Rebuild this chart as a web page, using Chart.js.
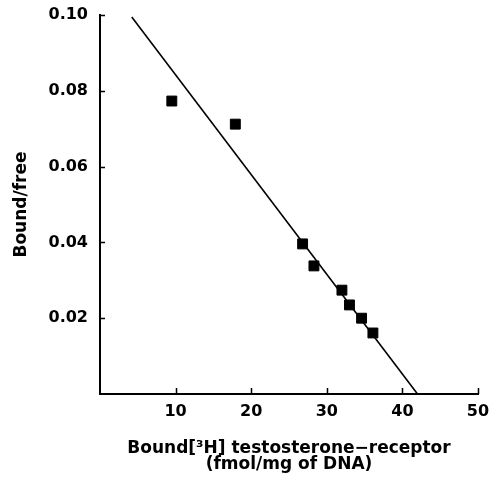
<!DOCTYPE html>
<html>
<head>
<meta charset="utf-8">
<script src="https://cdn.jsdelivr.net/npm/chart.js@4/dist/chart.umd.min.js"></script>
<style>
html,body{margin:0;padding:0;background:#fff;}
#wrap{width:498px;height:480px;}
</style>
</head>
<body>
<div id="wrap"><canvas id="c" width="498" height="480"></canvas></div>
<script>
const bound = [9.5, 17.9, 26.8, 28.3, 32.0, 33.0, 34.6, 36.1];
const boundFree = [0.0773, 0.0712, 0.0396, 0.0338, 0.0274, 0.0235, 0.0200, 0.0161];
const fitX = [4.2, 42.0];
const fitY = [0.0995, 0.0];
const xTicks = [10, 20, 30, 40, 50];
const yTicks = [0.02, 0.04, 0.06, 0.08, 0.10];
const xTitle = ['Bound[\u00B3H] testosterone\u2212receptor', '(fmol/mg of DNA)'];
const yTitle = 'Bound/free';

const FONT = 'DejaVu Sans';

const inwardTicks = {
  id: 'inwardTicks',
  afterDraw(chart) {
    const ctx = chart.ctx;
    const xs = chart.scales.x, ys = chart.scales.y;
    const left = chart.chartArea.left, bottom = chart.chartArea.bottom;
    ctx.save();
    ctx.strokeStyle = '#000';
    ctx.lineWidth = 1.5;
    ctx.beginPath();
    xTicks.forEach(v => {
      const px = Math.round(xs.getPixelForValue(v)) + 0.5;
      ctx.moveTo(px, bottom);
      ctx.lineTo(px, bottom - 6);
    });
    yTicks.forEach(v => {
      const py = Math.round(ys.getPixelForValue(v)) + 0.5;
      ctx.moveTo(left, py);
      ctx.lineTo(left + 5, py);
    });
    ctx.stroke();
    ctx.restore();
  }
};

new Chart(document.getElementById('c'), {
  type: 'scatter',
  data: {
    datasets: [
      {
        type: 'line',
        data: fitX.map((x, i) => ({x: x, y: fitY[i]})),
        borderColor: '#000',
        borderWidth: 1.6,
        pointRadius: 0,
        fill: false,
        tension: 0
      },
      {
        data: bound.map((x, i) => ({x: x, y: boundFree[i]})),
        pointStyle: 'rect',
        pointRadius: 7,
        backgroundColor: '#000',
        borderColor: '#000',
        borderWidth: 1
      }
    ]
  },
  options: {
    responsive: false,
    animation: false,
    devicePixelRatio: 1,
    layout: {padding: {left: 0, right: 20, top: 15, bottom: 0}},
    plugins: {legend: {display: false}, tooltip: {enabled: false}},
    scales: {
      x: {
        type: 'linear', min: 0, max: 50,
        afterBuildTicks: s => { s.ticks = xTicks.map(v => ({value: v})); },
        ticks: {
          color: '#000', padding: 8,
          font: {family: FONT, weight: 'bold', size: 16},
          callback: v => String(v)
        },
        grid: {display: false, drawTicks: false},
        border: {display: true, color: '#000', width: 2},
        title: {
          display: true, text: xTitle, color: '#000',
          font: {family: FONT, weight: 'bold', size: 17, lineHeight: 0.95},
          padding: {top: 9, bottom: 7}
        },
        afterFit: s => { s.height = 86; s.paddingLeft = 0; s.paddingRight = 0; }
      },
      y: {
        type: 'linear', min: 0, max: 0.10,
        afterBuildTicks: s => { s.ticks = yTicks.map(v => ({value: v})); },
        ticks: {
          color: '#000', padding: 12,
          font: {family: FONT, weight: 'bold', size: 16},
          callback: v => Number(v).toFixed(2)
        },
        grid: {display: false, drawTicks: false},
        border: {display: true, color: '#000', width: 2},
        title: {
          display: true, text: yTitle, color: '#000',
          font: {family: FONT, weight: 'bold', size: 17},
          padding: {top: 11, bottom: 10}
        },
        afterFit: s => { s.width = 100; s.paddingTop = 0; s.paddingBottom = 0; }
      }
    }
  },
  plugins: [inwardTicks]
});
</script>
</body>
</html>
